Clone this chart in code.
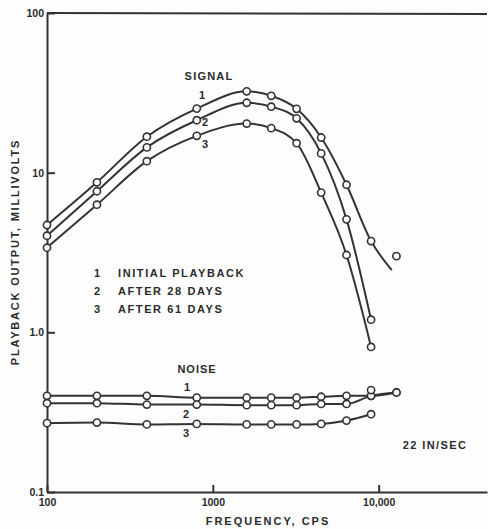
<!DOCTYPE html>
<html>
<head>
<meta charset="utf-8">
<script src="https://cdn.jsdelivr.net/npm/d3@7"></script>
<style>
  body { margin: 0; background: #fdfdfd; }
  svg { display: block; }
  text {
    font-family: "Liberation Sans", Arial, sans-serif;
    font-weight: bold;
    fill: #2b2b2b;
  }
  .axis path, .axis line { stroke: #333; stroke-width: 2; }
  .axis text { font-size: 10.5px; font-family: "Liberation Sans", Arial, sans-serif; fill: #2b2b2b; }
</style>
</head>
<body>
<script>
// frequencies (cps) where points were measured
const signalFreqs = [100, 200, 400, 800, 1600, 2250, 3200, 4500, 6400, 9000];
const noiseFreqs = [100, 200, 400, 800, 1600, 2250, 3200, 4500, 6400, 9000, 12800];
const noise3Freqs = [100, 200, 400, 800, 1600, 2250, 3200, 4500, 6400, 9000];

// millivolts
const signal1 = [4.7, 8.7, 16.8, 25.2, 32.3, 30.3, 25.1, 16.6, 8.4, 3.73];
const signal2 = [4.03, 7.65, 14.4, 21.3, 27.4, 25.9, 21.9, 13.2, 5.1, 1.2];
const signal3 = [3.39, 6.3, 11.8, 17.0, 20.3, 19.0, 15.3, 7.5, 3.05, 0.81];
const signal1Tail = [12000, 2.45]; // curve 1 runs on past last point, no marker

const noise1 = [0.40, 0.40, 0.40, 0.39, 0.39, 0.39, 0.39, 0.395, 0.40, 0.40, 0.42];
const noise2 = [0.36, 0.36, 0.353, 0.353, 0.35, 0.35, 0.35, 0.356, 0.356, 0.40, 0.42];
const noise3 = [0.27, 0.272, 0.265, 0.267, 0.265, 0.265, 0.265, 0.267, 0.28, 0.307];

// loose points that are not on a line
const strayFreqs = [9000, 12800];
const strayValues = [0.435, 3.0];

const xTicks = [100, 1000, 10000];
const xTickLabels = ["100", "1000", "10,000"];
const yTicks = [0.1, 1, 10, 100];
const yTickLabels = ["0.1", "1.0", "10", "100"];

const legendItems = ["INITIAL PLAYBACK", "AFTER 28 DAYS", "AFTER 61 DAYS"];

document.addEventListener("DOMContentLoaded", () => {
  const canvass = { width: 488, height: 529 };
  const plot = { left: 47, right: 487, top: 13, bottom: 492 };

  const svg = d3
    .select("body")
    .append("svg")
    .attr("width", canvass.width)
    .attr("height", canvass.height);

  const xScale = d3
    .scaleLog()
    .domain([100, 45000])
    .range([plot.left, plot.right]);

  const yScale = d3
    .scaleLog()
    .domain([0.1, 100])
    .range([plot.bottom, plot.top]);

  // axes
  svg
    .append("g")
    .attr("class", "axis")
    .attr("transform", `translate(0,${plot.bottom})`)
    .call(
      d3
        .axisBottom(xScale)
        .tickValues(xTicks)
        .tickFormat((d, i) => xTickLabels[i])
        .tickSizeInner(-7)
        .tickSizeOuter(0)
        .tickPadding(5)
    )
    .call((g) => g.selectAll("text").attr("dy", "0.9em"));

  svg
    .append("g")
    .attr("class", "axis")
    .attr("transform", `translate(${plot.left},0)`)
    .call(
      d3
        .axisLeft(yScale)
        .tickValues(yTicks)
        .tickFormat((d, i) => yTickLabels[i])
        .tickSizeInner(-8)
        .tickSizeOuter(0)
        .tickPadding(3)
    );

  // top frame line
  svg
    .append("line")
    .attr("x1", plot.left)
    .attr("x2", plot.right)
    .attr("y1", plot.top)
    .attr("y2", plot.top + 1)
    .attr("stroke", "#333")
    .attr("stroke-width", 2);

  const line = d3
    .line()
    .x((d) => xScale(d[0]))
    .y((d) => yScale(d[1]))
    .curve(d3.curveMonotoneX);

  const zip = (fs, vs) => fs.map((f, i) => [f, vs[i]]);

  const series = [
    { pts: zip(signalFreqs, signal1), tail: signal1Tail },
    { pts: zip(signalFreqs, signal2) },
    { pts: zip(signalFreqs, signal3) },
    { pts: zip(noiseFreqs, noise1) },
    { pts: zip(noiseFreqs, noise2) },
    { pts: zip(noise3Freqs, noise3) },
  ];

  series.forEach((s) => {
    const linePts = s.tail ? s.pts.concat([s.tail]) : s.pts;
    svg
      .append("path")
      .attr("d", line(linePts))
      .attr("fill", "none")
      .attr("stroke", "#333")
      .attr("stroke-width", 2);
  });

  const allPoints = series
    .flatMap((s) => s.pts)
    .concat(zip(strayFreqs, strayValues));

  svg
    .selectAll("circle.pt")
    .data(allPoints)
    .enter()
    .append("circle")
    .attr("class", "pt")
    .attr("cx", (d) => xScale(d[0]))
    .attr("cy", (d) => yScale(d[1]))
    .attr("r", 3.6)
    .attr("fill", "#fdfdfd")
    .attr("stroke", "#333")
    .attr("stroke-width", 1.6);

  // labels
  const label = (txt, x, y, size, spacing, anchor) =>
    svg
      .append("text")
      .attr("x", x)
      .attr("y", y)
      .attr("text-anchor", anchor || "middle")
      .style("font-size", size + "px")
      .style("letter-spacing", spacing + "px")
      .text(txt);

  label("SIGNAL", 209, 80, 11, 1.2);
  label("1", 202, 99, 11, 0);
  label("2", 205, 126, 11, 0);
  label("3", 205, 148, 11, 0);

  legendItems.forEach((t, i) => {
    const y = 277 + i * 18;
    label(String(i + 1), 97, y, 11, 0);
    label(t, 118, y, 11, 1.6, "start");
  });

  label("NOISE", 197, 373, 11, 1);
  label("1", 187, 391, 11, 0);
  label("2", 186, 418, 11, 0);
  label("3", 186, 437, 11, 0);

  label("22 IN/SEC", 435, 449, 11, 1.4);
  label("FREQUENCY, CPS", 268, 525, 11, 2);

  svg
    .append("text")
    .attr("transform", "translate(19,252) rotate(-90)")
    .attr("text-anchor", "middle")
    .style("font-size", "11px")
    .style("letter-spacing", "1.8px")
    .text("PLAYBACK OUTPUT, MILLIVOLTS");
});
</script>
</body>
</html>
